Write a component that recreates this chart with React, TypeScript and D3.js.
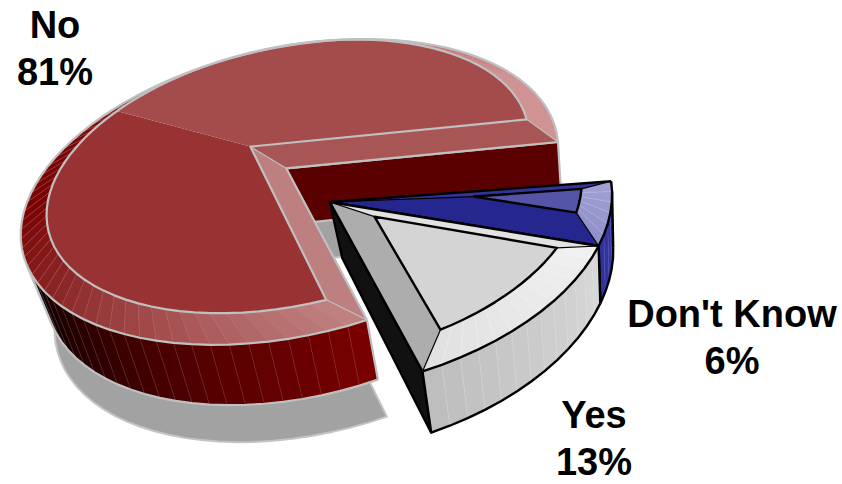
import React from "react";
import * as d3 from "d3";

// Survey answers, in the order the slices run clockwise around the pie.
const categories = ["No", "Don't Know", "Yes"];
const shares = [81, 6, 13];

const width = 842;
const height = 484;
const deg = Math.PI / 180;

type Pt = [number, number];

// The pie is turned so the "No" slice begins here (degrees clockwise from 12 o'clock).
const pieStart = 169.2;
const gapStart = 100.8;

// Perspective: four rim points of the flat pie and where they land on screen.
const anchorAngles = [pieStart, gapStart, pieStart + 180, gapStart + 180];
const anchorScreen: Pt[] = [[367, 320], [558, 142], [228, 59], [31, 193]];

// Pulled-out slices move along this direction in the plane of the pie.
const explodeAngle = 154;

const planeOf = (a: number, r = 1, e = 0): Pt => {
  const mid = explodeAngle * deg;
  return [r * Math.sin(a * deg) + e * Math.sin(mid), -r * Math.cos(a * deg) - e * Math.cos(mid)];
};

function solveLinear(A: number[][], b: number[]): number[] {
  const n = b.length;
  const M = A.map((row, i) => [...row, b[i]]);
  for (let c = 0; c < n; c++) {
    let p = c;
    for (let r = c + 1; r < n; r++) if (Math.abs(M[r][c]) > Math.abs(M[p][c])) p = r;
    [M[c], M[p]] = [M[p], M[c]];
    for (let r = 0; r < n; r++) {
      if (r === c) continue;
      const f = M[r][c] / M[c][c];
      for (let k = c; k <= n; k++) M[r][k] -= f * M[c][k];
    }
  }
  return M.map((row, i) => row[n] / row[i]);
}

const H = (() => {
  const A: number[][] = [];
  const b: number[] = [];
  anchorAngles.forEach((a, i) => {
    const [u, v] = planeOf(a);
    const [x, y] = anchorScreen[i];
    A.push([u, v, 1, 0, 0, 0, -u * x, -v * x]);
    b.push(x);
    A.push([0, 0, 0, u, v, 1, -u * y, -v * y]);
    b.push(y);
  });
  return solveLinear(A, b);
})();

const project = ([u, v]: Pt): Pt => {
  const w = H[6] * u + H[7] * v + 1;
  return [(H[0] * u + H[1] * v + H[2]) / w, (H[3] * u + H[4] * v + H[5]) / w];
};

// Depth of the pie: extrusion edges converge toward a vanishing point under the chart.
const drop = ([x, y]: Pt): Pt => [x + (640 - x) * 0.04, y + 50 + 0.03 * y];
const shadowDrop = (p: Pt): Pt => {
  const [x, y] = drop(p);
  return [x + 9, y + 37];
};

const innerRadius = 0.9;
const inset = 0.1;
const raise: Pt = [-1, -11];
const lifted = ([x, y]: Pt): Pt => [x + raise[0], y + raise[1]];

const path = d3.line<Pt>();
const closed = (pts: Pt[]) => path(pts) + "Z";

const angleSteps = (a0: number, a1: number, step: number) => {
  const n = Math.max(1, Math.round((a1 - a0) / step));
  return d3.range(n + 1).map((i) => a0 + ((a1 - a0) * i) / n);
};

type Palette = {
  bevel: (a: number) => string;
  wall: (a: number) => string;
  top: string;
  topAlt?: string;
  split?: number;
  startBevel: string;
  endBevel: string;
  endCut?: string;
  line: string;
  lineWidth: number;
  hair: string;
  bevelHair: string;
};

function Wedge({ a0, a1, explode, p }: { a0: number; a1: number; explode: number; p: Palette }) {
  const span = a1 - a0;
  const half = (span / 2) * deg;
  const midA = (a0 + a1) / 2;
  const origin = project(planeOf(a0, 0, explode));
  // A pulled-out slice swings slightly around its tip as it leaves the pie.
  const pt = (a: number, r = 1): Pt => {
    const [x, y] = project(planeOf(a, r, explode));
    if (!explode) return [x, y];
    const dx = x - origin[0];
    return [origin[0] + dx * 0.98, y + dx * 0.02];
  };
  const apex = pt(a0, 0);
  const innerApex = lifted(pt(midA, inset / Math.sin(half)));
  const delta = Math.asin(inset / innerRadius) / deg;
  const iA0 = a0 + delta;
  const iA1 = a1 - delta;
  const steps = angleSteps(a0, a1, 3.6);
  const t = (a: number) => iA0 + ((a - a0) / span) * (iA1 - iA0);
  const outer = steps.map((a) => pt(a));
  const inner = steps.map((a) => lifted(pt(t(a), innerRadius)));
  const first = outer[0];
  const last = outer[outer.length - 1];
  const iFirst = inner[0];
  const iLast = inner[inner.length - 1];
  const stroke = { stroke: p.line, strokeWidth: p.lineWidth, strokeLinejoin: "round" as const, fill: "none" };

  // Wall panels whose outward side faces the camera, judged against the local extrusion direction.
  const panels = d3.pairs(steps).map(([s], i) => {
    const A = outer[i];
    const B = outer[i + 1];
    const D = drop(A);
    const facing = (B[0] - A[0]) * (D[1] - A[1]) - (B[1] - A[1]) * (D[0] - A[0]) < 0;
    return { s, A, B, facing };
  });
  const visible = panels.filter((q) => q.facing);
  const wallTop = visible.map((q) => q.A).concat(visible.length ? [visible[visible.length - 1].B] : []);

  return (
    <g>
      {p.endCut && (
        <path d={closed([apex, last, drop(last), drop(apex)])} fill={p.endCut} stroke={p.line} strokeWidth={p.lineWidth} strokeLinejoin="round" />
      )}
      {visible.map((q, i) => (
        <g key={i}>
          <path d={closed([q.A, q.B, drop(q.B), drop(q.A)])} fill={p.wall(q.s)} stroke={p.wall(q.s)} strokeWidth={0.4} />
          <path d={path([q.A, drop(q.A)])!} stroke={p.hair} strokeWidth={0.5} strokeOpacity={0.55} fill="none" />
        </g>
      ))}
      {visible.length > 0 && (
        <>
          <path d={path(wallTop.map(drop))!} {...stroke} />
          <path d={path([drop(wallTop[0]), wallTop[0]])!} {...stroke} />
          <path d={path([drop(wallTop[wallTop.length - 1]), wallTop[wallTop.length - 1]])!} {...stroke} />
        </>
      )}
      {d3.pairs(steps).map(([s], i) => (
        <g key={i}>
          <path d={closed([outer[i], outer[i + 1], inner[i + 1], inner[i]])} fill={p.bevel(s)} stroke={p.bevel(s)} strokeWidth={0.4} />
          <path d={path([outer[i], inner[i]])!} stroke={p.bevelHair} strokeWidth={0.5} strokeOpacity={0.6} fill="none" />
        </g>
      ))}
      <path d={closed([apex, first, iFirst, innerApex])} fill={p.startBevel} />
      <path d={closed([apex, last, iLast, innerApex])} fill={p.endBevel} />
      {p.split === undefined ? (
        <path d={closed([innerApex, ...inner])} fill={p.top} />
      ) : (
        <>
          <path d={closed([innerApex, ...steps.filter((a) => t(a) <= p.split!).map((a) => lifted(pt(t(a), innerRadius))), lifted(pt(p.split, innerRadius))])} fill={p.top} />
          <path d={closed([innerApex, lifted(pt(p.split, innerRadius)), ...steps.filter((a) => t(a) >= p.split!).map((a) => lifted(pt(t(a), innerRadius)))])} fill={p.topAlt} />
        </>
      )}
      <path d={path(outer)!} {...stroke} />
      <path d={closed([innerApex, ...inner])} {...stroke} />
      <path d={path([first, apex, last])!} {...stroke} />
      <path d={path([first, iFirst])!} {...stroke} strokeWidth={p.lineWidth * 0.5} />
      <path d={path([last, iLast])!} {...stroke} strokeWidth={p.lineWidth * 0.5} />
      <path d={path([apex, innerApex])!} {...stroke} strokeWidth={p.lineWidth * 0.5} />
    </g>
  );
}

const ramp = (stops: [number, string][]) =>
  d3.scaleLinear<string>().domain(stops.map((s) => s[0])).range(stops.map((s) => s[1])).interpolate(d3.interpolateRgb).clamp(true);

const noPalette: Palette = {
  bevel: ramp([[169, "#c08080"], [200, "#a85555"], [235, "#8b2626"], [270, "#7a0202"], [300, "#7a0505"], [360, "#a03838"], [430, "#d09292"], [461, "#d09292"]]),
  wall: ramp([[169, "#780000"], [195, "#5a0000"], [215, "#3d0000"], [240, "#150000"], [265, "#000000"], [461, "#000000"]]),
  top: "#993333",
  topAlt: "#a44b4b",
  split: 313,
  startBevel: "#bd7f7f",
  endBevel: "#a85555",
  endCut: "#5a0000",
  line: "#c0c0c0",
  lineWidth: 2.2,
  hair: "#a06a6a",
  bevelHair: "#c08a8a",
};

const dkPalette: Palette = {
  bevel: ramp([[100, "#a0a0d4"], [122, "#9090c8"]]),
  wall: ramp([[100, "#3a3aa8"], [122, "#30309c"]]),
  top: "#5555a8",
  startBevel: "#333398",
  endBevel: "#26268f",
  line: "#000000",
  lineWidth: 2.4,
  hair: "#7070c0",
  bevelHair: "#d0d0ea",
};

const yesPalette: Palette = {
  bevel: ramp([[122, "#f0f0f0"], [169, "#e0e0e0"]]),
  wall: ramp([[122, "#d8d8d8"], [169, "#bcbcbc"]]),
  top: "#d4d4d4",
  startBevel: "#e2e2e2",
  endBevel: "#adadad",
  endCut: "#111111",
  line: "#000000",
  lineWidth: 2.4,
  hair: "#e4e4e4",
  bevelHair: "#f8f8f8",
};

const labelLines = [
  { lines: ["No", "81%"], x: 55, y: 38 },
  { lines: ["Don't Know", "6%"], x: 732, y: 327 },
  { lines: ["Yes", "13%"], x: 594, y: 428 },
];

export default function App() {
  const arcs = d3
    .pie<number>()
    .value((d) => d)
    .sort(null)
    .startAngle(pieStart * deg)
    .endAngle((pieStart + 360) * deg)(shares);
  const span = (i: number) => [arcs[i].startAngle / deg, arcs[i].endAngle / deg];
  const [noA0, noA1] = span(0);
  const [dkA0, dkA1] = span(1);
  const [yesA0, yesA1] = span(2);
  const explode = 0.314;

  const shadowSteps = angleSteps(noA0, noA1, 3.6).map((a) => project(planeOf(a)));
  const centre = project(planeOf(0, 0));
  const shadowPts = [shadowDrop(centre), ...shadowSteps.map(shadowDrop)];

  return (
    <svg width={width} height={height} style={{ position: "absolute", left: 0, top: 0, background: "#fff" }} aria-label={categories.join(", ")}>
      <path d={closed(shadowPts)} fill="#a2a2a2" stroke="#c4c4c4" strokeWidth={2} strokeLinejoin="round" />
      <Wedge a0={noA0} a1={noA1} explode={0} p={noPalette} />
      <Wedge a0={dkA0 - 360} a1={dkA1 - 360} explode={explode} p={dkPalette} />
      <Wedge a0={yesA0 - 360} a1={yesA1 - 360} explode={explode} p={yesPalette} />
      {labelLines.map((l) => (
        <text key={l.lines[0]} x={l.x} textAnchor="middle" fontFamily="Liberation Sans" fontWeight="bold" fontSize={38} fill="#000">
          <tspan x={l.x} y={l.y}>{l.lines[0]}</tspan>
          <tspan x={l.x} y={l.y + 47}>{l.lines[1]}</tspan>
        </text>
      ))}
    </svg>
  );
}
